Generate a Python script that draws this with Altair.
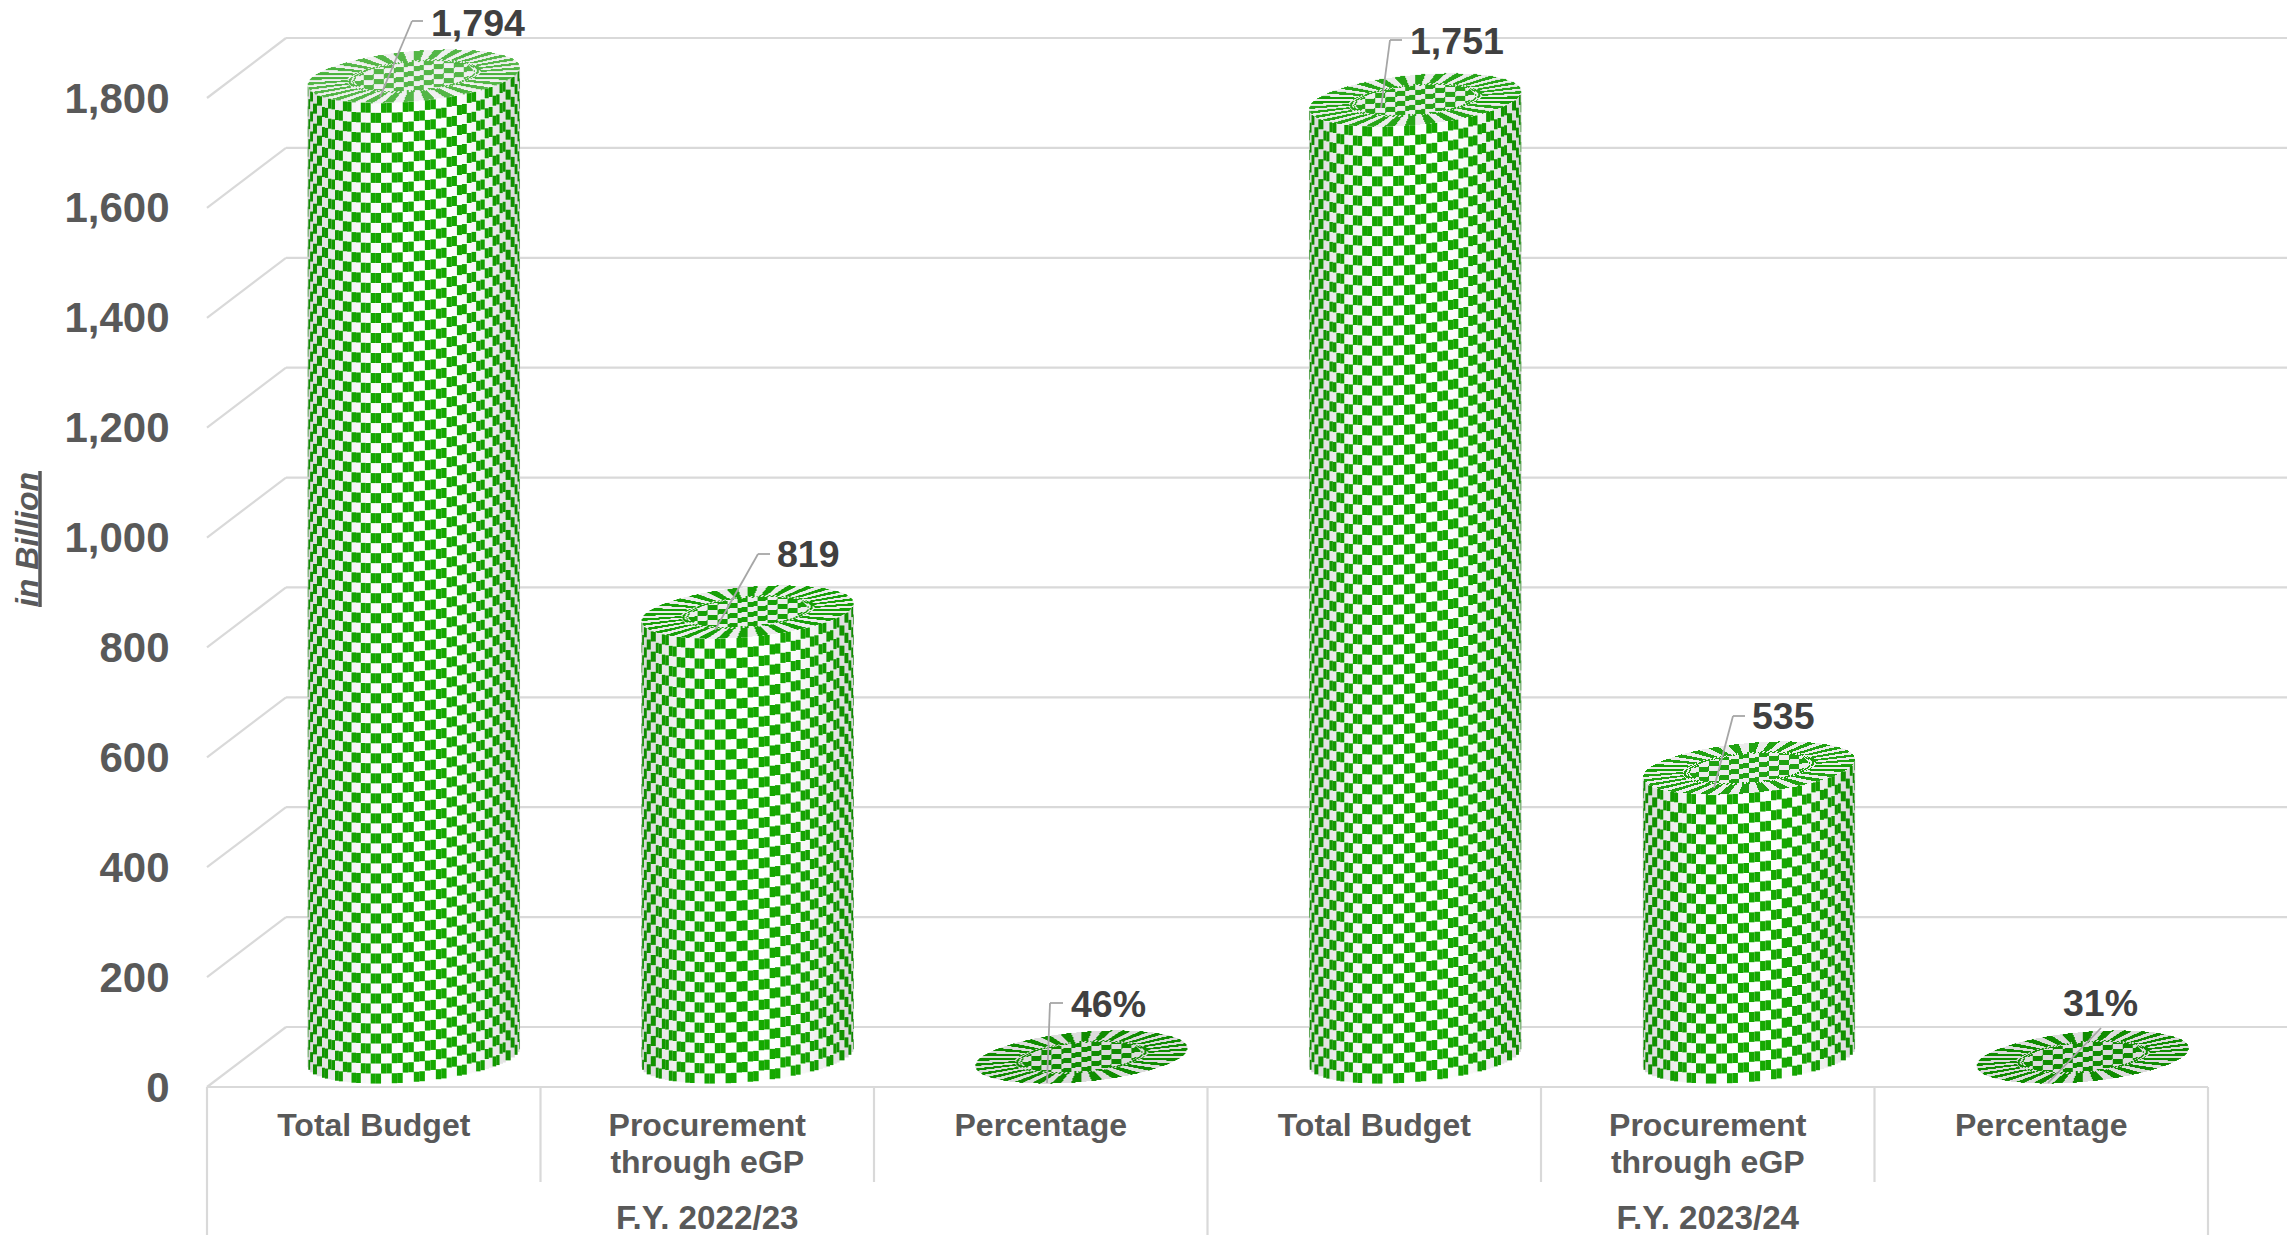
import math
import altair as alt
import pandas as pd

alt.data_transformers.disable_max_rows()

# ---- chart values
GROUPS = ["F.Y. 2022/23", "F.Y. 2023/24"]
CATEGORIES = [["Total Budget"], ["Procurement", "through eGP"], ["Percentage"]] * 2
VALUES = [1794, 819, 0.46, 1751, 535, 0.31]
VALUE_LABELS = ["1,794", "819", "46%", "1,751", "535", "31%"]
TICKS = [0, 200, 400, 600, 800, 1000, 1200, 1400, 1600, 1800]

# ---- page geometry of the 3-D frame
X0, Y0 = 207.0, 1087.0          # front-left corner of the floor
SLOT = 333.5                    # px per category
KY = 989.0 / 1800.0             # px per value unit
DX, DY = 79.0, 60.0             # depth of the frame
PLOT_W, PLOT_H = 2080, 1079
FONT = "Liberation Sans"


def U(px):
    return round((px - X0) / SLOT, 5)


def V(py):
    return round((Y0 - py) / KY, 3)


xs = alt.Scale(domain=[0, PLOT_W / SLOT], nice=False, zero=False)
ys = alt.Scale(domain=[0, PLOT_H / KY], nice=False, zero=False)
Y_AXIS = alt.Axis(
    values=TICKS,
    format=",.0f",
    ticks=False,
    domain=False,
    grid=False,
    labelPadding=38,
    labelOffset=1,
    labelFont=FONT,
    labelFontSize=42,
    labelFontWeight="bold",
    labelColor="#595959",
    title="in Billion",
    titleFont=FONT,
    titleFontSize=32,
    titleFontWeight="bold",
    titleFontStyle="italic",
    titleColor="#595959",
    titleAngle=270,
    titleAlign="center",
    titleBaseline="alphabetic",
    titleX=37 - X0,
    titleY=531,
)
NOX = alt.X("x:Q", scale=xs, axis=None)
NOY = alt.Y("y:Q", scale=ys, axis=Y_AXIS)


def mix(a, b, f):
    ca = [int(a[i:i + 2], 16) for i in (1, 3, 5)]
    cb = [int(b[i:i + 2], 16) for i in (1, 3, 5)]
    return "#" + "".join(f"{round(p + (q - p) * f):02x}" for p, q in zip(ca, cb))


# ---- cylinders, built as checker cells through the scales
R = 106.0
TILT = 9.0
MINOR = 25.0
BASE_Y = 1057.0
TOP_ZERO = 1062.0
NCOL = 30
CELL_H = 10.0
CX0, CX_STEP = 413.8, 333.8
cells = []


def add(x1, x2, y1, y2, c):
    cells.append({"x": U(x1), "x2": U(x2), "y": V(y1), "y2": V(y2), "c": c})


def side(cx, top):
    H = BASE_Y - top
    n = max(1, round(H / CELL_H))
    h = H / n
    dt = math.pi / NCOL
    green, bg = [], []
    for col in range(NCOL):
        t1, t2 = col * dt, (col + 1) * dt
        xa, xb = cx + R * math.cos(t1), cx + R * math.cos(t2)
        parts = 2 if abs(xa - xb) > 6 else 1
        for k in range(parts):
            ta = t1 + (t2 - t1) * k / parts
            tb = t1 + (t2 - t1) * (k + 1) / parts
            x1, x2 = cx + R * math.cos(tb), cx + R * math.cos(ta)
            tm = (ta + tb) / 2
            off = -TILT * math.cos(tm) + MINOR * math.sin(tm)
            f = abs(math.cos(tm)) ** 2.5
            white = mix("#ffffff", "#d4d4d4", f)
            grn = mix("#15a900", "#0f8a00", f)
            bg.append((x1 - 0.25, x2 + 0.25, top + off, BASE_Y + off, white))
            for row in range(n):
                if (row + col) % 2 == 0:
                    yb = BASE_Y + off - row * h
                    green.append((x1, x2, yb - h, yb, grn))
    for r in bg + green:
        add(*r)


def face(cx, cy, grn, back):
    top_extent = int(math.hypot(TILT, MINOR)) + 1
    for dy in range(-top_extent, top_extent + 1):
        runs = []
        inside = []
        for dx in range(-int(R) - 1, int(R) + 1):
            p = (dx + 0.5) / R
            q = (dy + 0.5 + TILT * p) / MINOR
            rho = math.hypot(p, q)
            if rho > 1:
                continue
            inside.append(dx)
            phi = math.atan2(q, p) + math.pi
            if rho < 0.56:
                on = (math.floor(p / 0.095) + math.floor(q / 0.2)) % 2 == 0
            elif rho < 0.63:
                on = (math.floor(phi / 0.035) + math.floor(rho / 0.022)) % 2 == 0
            else:
                on = math.floor(phi / (2 * math.pi / 64)) % 2 == 0
            if on:
                if runs and runs[-1][1] == dx:
                    runs[-1][1] = dx + 1
                else:
                    runs.append([dx, dx + 1])
        if inside:
            ix1, ix2 = cx + inside[0], cx + inside[-1] + 1
            add(ix1, ix2, cy + dy, cy + dy + 1, back)
        for a, b in runs:
            add(cx + a, cx + b, cy + dy, cy + dy + 1, grn)


for i, val in enumerate(VALUES):
    cx = CX0 + i * CX_STEP
    top = min(BASE_Y, TOP_ZERO - val * KY)
    tall = BASE_Y - top > 1
    if tall:
        side(cx, top)
    face(cx, top, "#17a007" if tall else "#0f8c00", "#ececec" if tall else "#dcdcdc")

cells_df = pd.DataFrame(cells)

# ---- frame lines
GRID = "#d9d9d9"
frame = []
for tk in TICKS:
    yf = Y0 - tk * KY
    frame.append((X0, yf, X0 + DX, yf - DY))
    frame.append((X0 + DX, yf - DY, 2288, yf - DY))
frame.append((X0, Y0, X0 + 6 * SLOT, Y0))
for s in (1, 2, 4, 5):
    frame.append((X0 + s * SLOT, Y0, X0 + s * SLOT, 1182))
for s in (0, 3, 6):
    frame.append((X0 + s * SLOT, Y0, X0 + s * SLOT, 1235))
frame_df = pd.DataFrame(
    [{"x": U(a), "y": V(b), "x2": U(c), "y2": V(d)} for a, b, c, d in frame]
)

# ---- leader lines
LEADERS = [
    [(380, 97), (412, 21), (423, 21)],
    [(715, 630), (758, 554), (770, 554)],
    [(1047, 1083), (1050, 1003), (1063, 1003)],
    [(1381, 108), (1390, 40), (1402, 40)],
    [(1714, 788), (1733, 716), (1745, 716)],
    [(2048, 1083), (2101, 1028)],
]
lead = []
for path in LEADERS:
    for (a, b), (c, d) in zip(path, path[1:]):
        lead.append({"x": U(a), "y": V(b), "x2": U(c), "y2": V(d)})
lead_df = pd.DataFrame(lead)

# ---- texts
LABEL_POS = [(431, 36), (777, 567), (1071, 1017), (1410, 54), (1752, 729), (2063, 1016)]
label_df = pd.DataFrame(
    [{"x": U(p[0]), "y": V(p[1]), "t": t} for p, t in zip(LABEL_POS, VALUE_LABELS)]
)

cat = []
for i, lines in enumerate(CATEGORIES):
    for j, line in enumerate(lines):
        cat.append({"x": i + 0.5, "y": V(1136 + j * 37), "t": line})
cat_df = pd.DataFrame(cat)
group_df = pd.DataFrame(
    [{"x": 1.5 + 3 * g, "y": V(1229), "t": name} for g, name in enumerate(GROUPS)]
)
underline_df = pd.DataFrame([{"x": U(40), "y": V(471), "y2": V(607)}])

frame_layer = alt.Chart(frame_df).mark_rule(color=GRID, strokeWidth=2.2).encode(
    x=NOX, x2="x2:Q", y=NOY, y2="y2:Q"
)
cell_layer = alt.Chart(cells_df).mark_rect().encode(
    x=NOX, x2="x2:Q", y=NOY, y2="y2:Q", color=alt.Color("c:N", scale=None)
)
lead_layer = alt.Chart(lead_df).mark_rule(color="#a6a6a6", strokeWidth=1.8).encode(
    x=NOX, x2="x2:Q", y=NOY, y2="y2:Q"
)
label_layer = alt.Chart(label_df).mark_text(
    font=FONT, fontSize=37.5, fontWeight="bold", color="#404040", align="left", baseline="alphabetic"
).encode(x=NOX, y=NOY, text="t:N")
cat_layer = alt.Chart(cat_df).mark_text(
    font=FONT, fontSize=32, fontWeight="bold", color="#595959", align="center", baseline="alphabetic"
).encode(x=NOX, y=NOY, text="t:N")
group_layer = alt.Chart(group_df).mark_text(
    font=FONT, fontSize=33.2, fontWeight="bold", color="#595959", align="center", baseline="alphabetic"
).encode(x=NOX, y=NOY, text="t:N")
underline_layer = alt.Chart(underline_df).mark_rule(color="#595959", strokeWidth=3.5).encode(
    x=NOX, y=NOY, y2="y2:Q"
)

chart = (
    alt.layer(frame_layer, cell_layer, lead_layer, label_layer, cat_layer, group_layer, underline_layer)
    .properties(
        width=PLOT_W,
        height=PLOT_H,
        padding={"left": 199, "top": 0, "right": 0, "bottom": 148},
        autosize=alt.AutoSizeParams(type="none"),
        background="white",
    )
    .configure_view(stroke=None)
)

chart.save("out.html", embed_options={"renderer": "svg", "actions": False})
